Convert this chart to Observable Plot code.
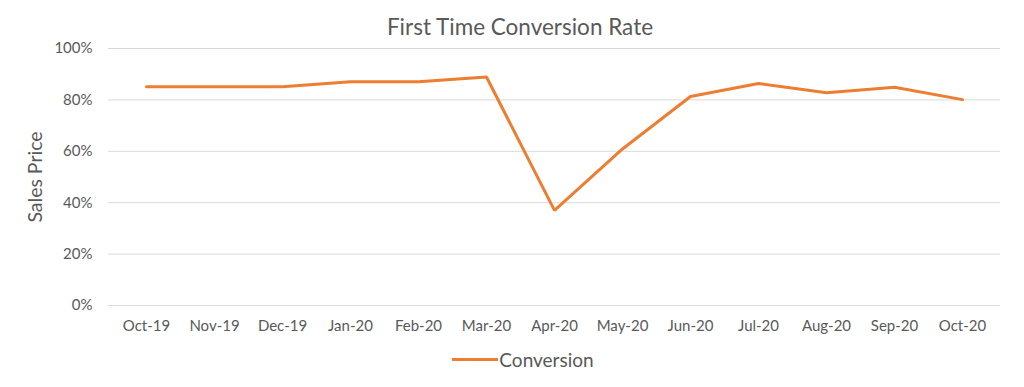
<!DOCTYPE html>
<html>
<head>
<meta charset="utf-8">
<script src="https://cdn.jsdelivr.net/npm/d3@7"></script>
<script src="https://cdn.jsdelivr.net/npm/@observablehq/plot@0.6"></script>
<style>
  html, body { margin: 0; padding: 0; background: #fff; }
  body { width: 1024px; height: 387px; overflow: hidden; font-family: Lato, sans-serif; color: #595959; }
  #title { height: 34px; line-height: 42px; padding-top: 6px; box-sizing: border-box; text-align: center; font-size: 22.5px; padding-left: 16px; white-space: nowrap; }
  #legend { display: flex; align-items: center; justify-content: center; padding-left: 22px; margin-top: 13px; font-size: 19px; height: 24px; }
  #legend .sw { width: 46px; height: 3px; background: #ED7D31; margin-right: 1px; }
</style>
</head>
<body>
<div id="title">First Time Conversion Rate</div>
<div id="chart"></div>
<div id="legend"><span class="sw"></span><span>Conversion</span></div>
<script>
const months = ["Oct-19","Nov-19","Dec-19","Jan-20","Feb-20","Mar-20","Apr-20","May-20","Jun-20","Jul-20","Aug-20","Sep-20","Oct-20"];
const conversion = [0.851, 0.851, 0.851, 0.871, 0.871, 0.889, 0.370, 0.609, 0.813, 0.864, 0.828, 0.849, 0.801];
const yTicks = [0, 0.2, 0.4, 0.6, 0.8, 1.0];
const seriesName = "Conversion";

const data = months.map((m, i) => ({month: m, value: conversion[i], series: seriesName}));

const chart = Plot.plot({
  width: 1024,
  height: 300,
  marginTop: 14,
  marginBottom: 29,
  marginLeft: 108,
  marginRight: 24,
  style: {fontFamily: "Lato, sans-serif", fontSize: "15px", color: "#595959", background: "#fff"},
  x: {type: "point", domain: months, padding: 0.5},
  y: {domain: [0, 1]},
  marks: [
    Plot.gridY(yTicks, {stroke: "#d9d9d9", strokeOpacity: 1, strokeWidth: 1}),
    Plot.axisY(yTicks, {tickSize: 0, tickPadding: 16, tickFormat: d3.format(".0%"), label: null, fill: "#595959"}),
    Plot.axisX({tickSize: 0, tickPadding: 15, label: null, fill: "#595959"}),
    Plot.text(["Sales Price"], {frameAnchor: "left", textAnchor: "middle", dx: -73, rotate: -90, fontSize: 19.5, fill: "#595959"}),
    Plot.lineY(data, {x: "month", y: "value", stroke: "#ED7D31", strokeWidth: 3, strokeLinejoin: "miter"})
  ]
});
document.getElementById("chart").appendChild(chart);
</script>
</body>
</html>
